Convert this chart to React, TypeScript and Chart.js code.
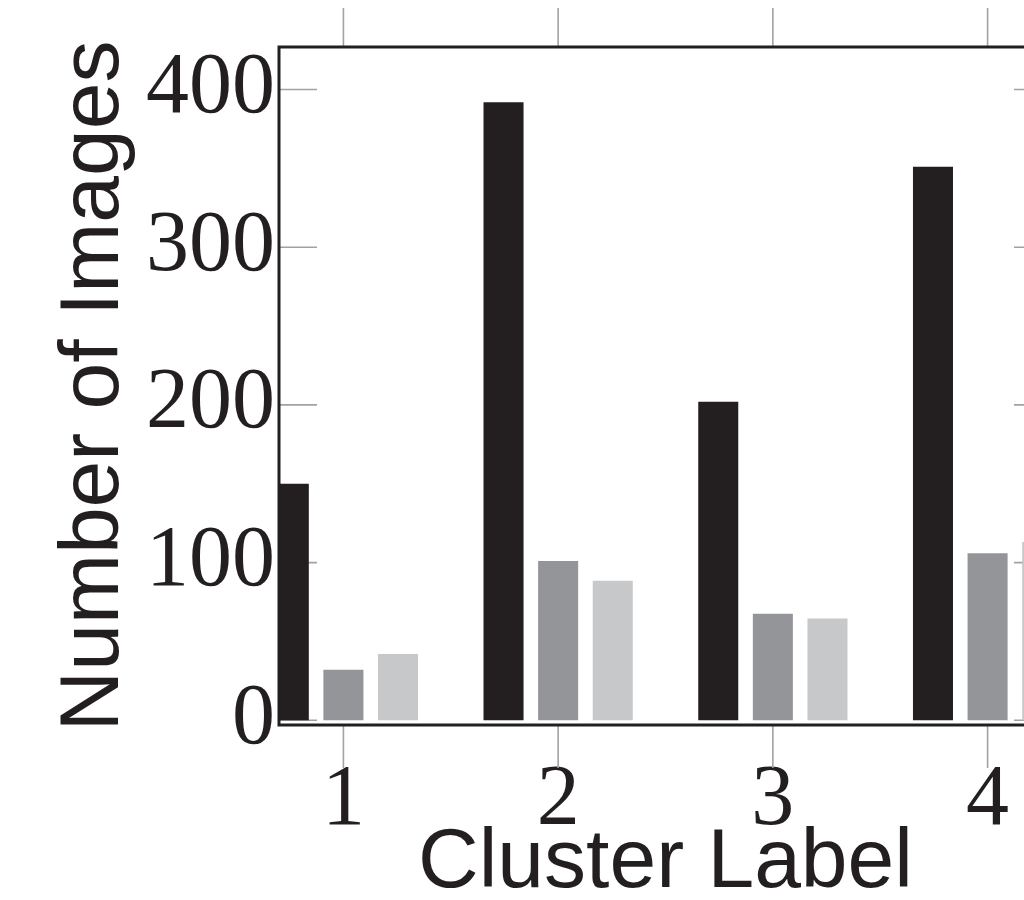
import React, { useEffect, useRef } from "react";
import { Chart, registerables } from "chart.js";

Chart.register(...registerables);

// ---- data ----
const categories = [1, 2, 3, 4];
const seriesDark = [150, 392, 202, 351];
const seriesMid = [32, 101, 67.5, 106];
const seriesLight = [42, 88.5, 64.5, 113];
const yTickValues = [0, 100, 200, 300, 400];
const xTitle = "Cluster Label";
const yTitle = "Number of Images";

const INK = "#231f20";
const TICK = "#a0a2a5";

const frameTicks = {
  id: "frameTicks",
  beforeDatasetsDraw(chart: any) {
    const { ctx, chartArea: a, scales } = chart;
    const xs = scales.x;
    const ys = scales.y;
    ctx.save();
    ctx.strokeStyle = TICK;
    ctx.lineWidth = 1.6;
    ctx.beginPath();
    xs.ticks.forEach((t: any) => {
      const px = xs.getPixelForValue(t.value);
      ctx.moveTo(px, a.top - 39);
      ctx.lineTo(px, a.top);
      ctx.moveTo(px, a.bottom);
      ctx.lineTo(px, a.bottom + 43);
    });
    ys.ticks.forEach((t: any) => {
      const py = ys.getPixelForValue(t.value);
      ctx.moveTo(a.left, py);
      ctx.lineTo(a.left + 38, py);
      ctx.moveTo(a.right, py);
      ctx.lineTo(a.right - 38, py);
    });
    ctx.stroke();
    ctx.restore();
  },
  afterDatasetsDraw(chart: any) {
    const { ctx, chartArea: a } = chart;
    ctx.save();
    ctx.strokeStyle = INK;
    ctx.lineWidth = 3;
    ctx.strokeRect(a.left, a.top, a.right - a.left, a.bottom - a.top);
    ctx.restore();
  },
};

export default function App() {
  const ref = useRef<HTMLCanvasElement>(null);

  useEffect(() => {
    if (!ref.current) return;
    const toPoints = (vals: number[]) => categories.map((c, i) => ({ x: c, y: vals[i] }));
    const chart = new Chart(ref.current, {
      type: "bar",
      data: {
        datasets: [
          { label: "A", data: toPoints(seriesDark) as any, backgroundColor: INK, borderWidth: 0 },
          { label: "B", data: toPoints(seriesMid) as any, backgroundColor: "#939598", borderWidth: 0 },
          { label: "C", data: toPoints(seriesLight) as any, backgroundColor: "#c7c8ca", borderWidth: 0 },
        ],
      },
      options: {
        responsive: false,
        animation: false,
        devicePixelRatio: 1,
        layout: { padding: { top: 44, right: 48, left: 0, bottom: 0 } },
        plugins: { legend: { display: false }, tooltip: { enabled: false } },
        datasets: { bar: { categoryPercentage: 0.763, barPercentage: 0.733 } } as any,
        scales: {
          x: {
            type: "linear",
            position: "bottom",
            offset: false,
            min: 0.7,
            max: 4.3,
            grid: { display: false, drawTicks: false, offset: false },
            border: { display: false },
            afterBuildTicks: (s: any) => {
              s.ticks = categories.map((v) => ({ value: v }));
            },
            afterFit: (s: any) => {
              s.height = 175;
            },
            ticks: {
              font: { family: "'Liberation Serif', serif", size: 86, lineHeight: 1 },
              color: INK,
              padding: 33,
              maxRotation: 0,
              autoSkip: false,
              includeBounds: false,
              callback: (v: any) => String(v),
            },
            title: {
              display: true,
              text: xTitle,
              color: INK,
              font: { family: "'Liberation Sans', sans-serif", size: 84, lineHeight: 1 },
              padding: { top: 0, bottom: -6 },
            },
          } as any,
          y: {
            type: "linear",
            min: -3,
            max: 427,
            grid: { display: false, drawTicks: false },
            border: { display: false },
            afterBuildTicks: (s: any) => {
              s.ticks = yTickValues.map((v) => ({ value: v }));
            },
            afterFit: (s: any) => {
              s.width = 279;
            },
            ticks: {
              font: { family: "'Liberation Serif', serif", size: 86, lineHeight: 1 },
              color: INK,
              padding: 4,
              callback: (v: any) => String(v),
            },
            title: {
              display: true,
              text: yTitle,
              color: INK,
              font: { family: "'Liberation Sans', sans-serif", size: 84, lineHeight: 1 },
              padding: { top: 53, bottom: 0 },
            },
          } as any,
        },
      },
      plugins: [frameTicks],
    });
    return () => chart.destroy();
  }, []);

  return (
    <div
      style={{
        position: "fixed",
        left: 0,
        top: 0,
        width: 1024,
        height: 900,
        overflow: "hidden",
        background: "#ffffff",
      }}
    >
      <canvas ref={ref} width={1100} height={900} style={{ display: "block" }} />
    </div>
  );
}
